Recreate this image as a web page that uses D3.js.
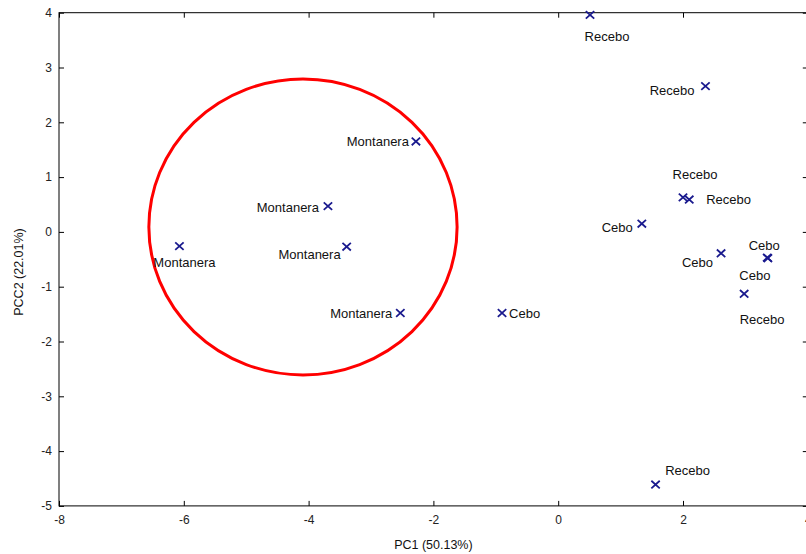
<!DOCTYPE html>
<html>
<head>
<meta charset="utf-8">
<script src="https://cdn.jsdelivr.net/npm/d3@7"></script>
<style>
  html, body { margin: 0; padding: 0; background: #fff; }
  svg { display: block; font-family: "Liberation Sans", Arial, sans-serif; }
</style>
</head>
<body>
<svg id="chart" width="806" height="554"></svg>
<script>
// PCA scores: sample group, PC1, PC2
const groups = ["Recebo", "Recebo", "Recebo", "Recebo", "Cebo", "Cebo", "Cebo", "Cebo",
                "Recebo", "Recebo", "Cebo",
                "Montanera", "Montanera", "Montanera", "Montanera", "Montanera"];
const pc1 = [0.51, 2.36, 2.00, 2.10, 1.34, 2.61, 3.35, 3.36,
             2.98, 1.56, -0.90,
             -2.28, -3.69, -3.39, -6.07, -2.53];
const pc2 = [3.96, 2.66, 0.63, 0.59, 0.15, -0.39, -0.47, -0.48,
             -1.13, -4.61, -1.48,
             1.65, 0.47, -0.27, -0.26, -1.48];

// Label placement per sample: text anchor and pixel offset from the marker
const labelAnchor = ["middle", "end", "middle", "start", "end", "end", "middle", "middle",
                     "middle", "middle", "start",
                     "end", "end", "end", "middle", "end"];
const labelDx = [17, -11, 12, 17, -9, -8, -3, -13, 18, 32, 7, -7, -9, -6, 5, -8];
const labelDy = [22, 4, -23, 0, 4, 9, -12, 17, 26, -14, 0, 0, 1, 8, 16, 0];

// Ellipse drawn around the Montanera group (data units)
const ellipse = { cx: -4.09, cy: 0.09, rx: 2.47, ry: 2.70 };

const xTicks = [-8, -6, -4, -2, 0, 2, 4];
const yTicks = [-5, -4, -3, -2, -1, 0, 1, 2, 3, 4];
const xDomain = [-8, 4];
const yDomain = [-5, 4];
const xTitle = "PC1 (50.13%)";
const yTitle = "PCC2 (22.01%)";

const svg = d3.select("#chart");
const mLeft = 59, mTop = 12.7, plotW = 748.8, plotH = 493.2;

const x = d3.scaleLinear().domain(xDomain).range([mLeft, mLeft + plotW]);
const y = d3.scaleLinear().domain(yDomain).range([mTop + plotH, mTop]);

const fmt = d => String(d);
const tickLen = 5;

// Frame
svg.append("rect")
  .attr("x", mLeft).attr("y", mTop)
  .attr("width", plotW).attr("height", plotH)
  .attr("fill", "none").attr("stroke", "#000").attr("stroke-width", 1);

function styleAxis(g, showLabels) {
  g.select(".domain").remove();
  g.selectAll(".tick line").attr("stroke", "#000");
  g.selectAll(".tick text")
    .attr("fill", showLabels ? "#222" : "none")
    .style("font-size", "12px")
    .style("font-family", "'Liberation Sans', Arial, sans-serif");
}

// Bottom axis (ticks point inward)
svg.append("g")
  .attr("transform", `translate(0,${mTop + plotH})`)
  .call(d3.axisBottom(x).tickValues(xTicks).tickFormat(fmt).tickSizeInner(-tickLen).tickSizeOuter(0).tickPadding(10))
  .call(g => styleAxis(g, true));

// Top axis, ticks only
svg.append("g")
  .attr("transform", `translate(0,${mTop})`)
  .call(d3.axisTop(x).tickValues(xTicks).tickFormat("").tickSizeInner(-tickLen).tickSizeOuter(0))
  .call(g => styleAxis(g, false));

// Left axis
svg.append("g")
  .attr("transform", `translate(${mLeft},0)`)
  .call(d3.axisLeft(y).tickValues(yTicks).tickFormat(fmt).tickSizeInner(-tickLen).tickSizeOuter(0).tickPadding(7))
  .call(g => styleAxis(g, true));

// Right axis, ticks only
svg.append("g")
  .attr("transform", `translate(${mLeft + plotW},0)`)
  .call(d3.axisRight(y).tickValues(yTicks).tickFormat("").tickSizeInner(-tickLen).tickSizeOuter(0))
  .call(g => styleAxis(g, false));

// Axis titles
svg.append("text")
  .attr("x", mLeft + plotW / 2).attr("y", 549)
  .attr("text-anchor", "middle")
  .attr("fill", "#111")
  .style("font-size", "12.5px")
  .text(xTitle);

svg.append("text")
  .attr("transform", `translate(23,272) rotate(-90)`)
  .attr("text-anchor", "middle")
  .attr("fill", "#111")
  .style("font-size", "12.5px")
  .text(yTitle);

// Group ellipse
svg.append("ellipse")
  .attr("cx", x(ellipse.cx)).attr("cy", y(ellipse.cy))
  .attr("rx", x(ellipse.cx + ellipse.rx) - x(ellipse.cx))
  .attr("ry", y(ellipse.cy) - y(ellipse.cy + ellipse.ry))
  .attr("fill", "none")
  .attr("stroke", "#ff0000")
  .attr("stroke-width", 3);

// Samples
const samples = groups.map((g, i) => ({ g, px: pc1[i], py: pc2[i], i }));

const marks = svg.append("g");
const mh = 4.2, mv = 3.8;
marks.selectAll("path")
  .data(samples)
  .join("path")
  .attr("transform", d => `translate(${x(d.px)},${y(d.py)})`)
  .attr("d", `M${-mh},${-mv}L${mh},${mv}M${-mh},${mv}L${mh},${-mv}`)
  .attr("stroke", "#1a1a8e")
  .attr("stroke-width", 1.8)
  .attr("fill", "none");

svg.append("g").selectAll("text")
  .data(samples)
  .join("text")
  .attr("x", d => x(d.px) + labelDx[d.i])
  .attr("y", d => y(d.py) + labelDy[d.i])
  .attr("dy", "0.35em")
  .attr("text-anchor", d => labelAnchor[d.i])
  .attr("fill", "#111")
  .style("font-size", "13px")
  .text(d => d.g);
</script>
</body>
</html>
